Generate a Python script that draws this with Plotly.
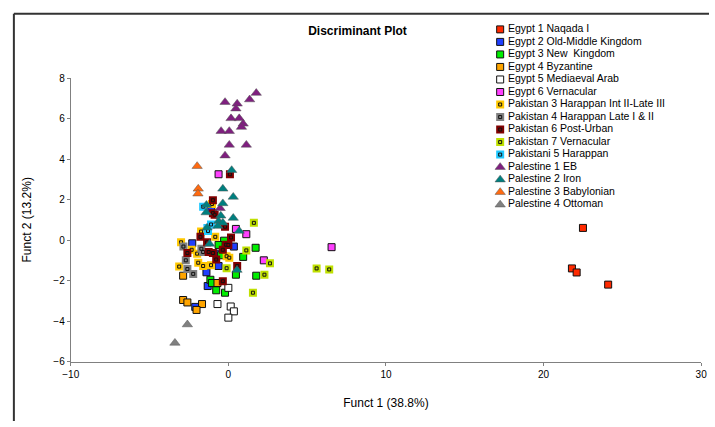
import plotly.graph_objects as go

W, H = 715, 427

# ---------------- data ----------------
series_names = [
    "Egypt 1 Naqada I", "Egypt 2 Old-Middle Kingdom", "Egypt 3 New  Kingdom",
    "Egypt 4 Byzantine", "Egypt 5 Mediaeval Arab", "Egypt 6 Vernacular",
    "Pakistan 3 Harappan Int II-Late III", "Pakistan 4 Harappan Late I & II",
    "Pakistan 6 Post-Urban", "Pakistan 7 Vernacular", "Pakistani 5 Harappan",
    "Palestine 1 EB", "Palestine 2 Iron", "Palestine 3 Babylonian", "Palestine 4 Ottoman",
]

egypt1_x = [22.5, 21.8, 22.1, 24.1]
egypt1_y = [0.6, -1.4, -1.6, -2.2]
egypt2_x = [-1.08, -2.29, 0.35, -0.73, -1.39, -0.62, -1.31, -2.10]
egypt2_y = [1.57, -0.16, -0.32, -0.67, -1.59, -1.28, -2.27, -3.30]
egypt3_x = [-0.27, -0.46, 0.94, 1.73, 0.48, 1.77, -1.14, -1.04, -0.77, -0.21, -0.62]
egypt3_y = [-0.03, -0.75, -0.83, -0.38, -1.71, -1.76, -1.96, -2.12, -2.48, -2.60, -0.24]
egypt4_x = [-2.87, -0.69, -2.87, -2.60, -1.67, -2.02]
egypt4_y = [-1.76, -2.12, -2.96, -3.08, -3.16, -3.45]
egypt5_x = [0.00, -0.69, 0.15, 0.35, 0.00]
egypt5_y = [-2.36, -3.16, -3.28, -3.52, -3.83]
egypt6_x = [-0.62, 6.55, 0.48, 1.14, 2.25]
egypt6_y = [3.25, -0.35, 0.55, 0.29, -1.00]
pak3_x = [-1.73, -0.83, -3.00, -2.33, -1.98, -0.11, 0.06, -3.12, -1.60, -1.91, -1.10, -1.04]
pak3_y = [0.42, 0.16, -0.11, -0.48, -0.67, -0.80, -0.87, -1.31, -1.28, -1.12, -1.24, 1.78]
pak4_x = [-2.85, -1.71, -1.60, -2.70, -2.60, -2.23]
pak4_y = [-0.32, -0.43, -0.59, -1.00, -1.43, -1.67]
pak6_x = [-0.98, -0.98, -0.87, -0.21, 0.10, -1.77, -1.35, 0.17, -0.14, -0.35, -2.60, -0.98,
          -1.25, -0.77, 0.56, -0.35, 0.00]
pak6_y = [1.97, 1.33, 1.25, 0.66, 3.25, 0.16, -0.11, 0.13, -0.23, -0.48, -0.64, -0.64,
          -0.59, -0.96, -1.28, -2.03, -0.24]
pak7_x = [5.6, 6.4, 1.14, 2.64, 2.29, -0.11, 1.56, 1.62]
pak7_y = [-1.40, -1.45, -0.51, -1.15, -1.71, -1.39, -2.60, 0.85]
pak5_x = [-1.60, -1.10, -1.33, -1.29]
pak5_y = [1.65, 0.77, 0.60, 0.45]
pal1_x = [1.77, -0.21, 0.56, 0.48, 1.35, 0.17, 0.69, 0.94, 0.83, -0.46, 0.06, 0.06, 1.14, -0.21, -0.52]
pal1_y = [7.26, 6.81, 6.73, 6.49, 6.94, 6.01, 6.01, 5.74, 5.58, 5.38, 5.38, 4.70, 4.70, 4.17, 1.57]
pal2_x = [0.21, -0.35, 0.31, -0.35, -1.39, -1.41, 0.31, -0.48, -0.62, -0.35, -0.67, -1.35, 0.69, -1.19, 0.55]
pal2_y = [3.45, 2.53, 2.13, 1.81, 1.73, 1.36, 1.09, 1.20, 0.93, 0.85, 0.69, 0.61, 0.45, -0.19, -1.48]
pal3_x = [-1.98, -1.91, -1.93]
pal3_y = [3.65, 2.53, 2.29]
pal4_x = [-2.60, -3.39]
pal4_y = [-4.17, -5.08]

x_ticks = [-10, 0, 10, 20, 30]
y_ticks = [-6, -4, -2, 0, 2, 4, 6, 8]

# ---------------- styles ----------------
series = [
    (egypt1_x, egypt1_y, "sq", "#FF2A00"),
    (egypt2_x, egypt2_y, "sq", "#1F3FFF"),
    (egypt3_x, egypt3_y, "sq", "#00EE00"),
    (egypt4_x, egypt4_y, "sq", "#FFA500"),
    (egypt5_x, egypt5_y, "sq", "#FFFFFF"),
    (egypt6_x, egypt6_y, "sq", "#FF3FFF"),
    (pak3_x, pak3_y, "ring", "#FFC800"),
    (pak4_x, pak4_y, "ring", "#808080"),
    (pak6_x, pak6_y, "ring", "#800000"),
    (pak7_x, pak7_y, "ring", "#BFE000"),
    (pak5_x, pak5_y, "ring", "#1FC8FF"),
    (pal1_x, pal1_y, "tri", "#7F1F7F"),
    (pal2_x, pal2_y, "tri", "#007F7F"),
    (pal3_x, pal3_y, "tri", "#FF6A10"),
    (pal4_x, pal4_y, "tri", "#808080"),
]

FONT = "Liberation Sans, Arial, sans-serif"
fig = go.Figure()


def add_marks(x, y, kind, color, xa, ya):
    common = dict(mode="markers", showlegend=False, hoverinfo="skip", xaxis=xa, yaxis=ya)
    if kind == "sq":
        fig.add_trace(go.Scatter(x=x, y=y, marker=dict(symbol="square", size=7, color=color,
                                                       line=dict(color="#111111", width=1)), **common))
    elif kind == "ring":
        fig.add_trace(go.Scatter(x=x, y=y, marker=dict(symbol="square", size=8, color=color,
                                                       line=dict(width=0)), **common))
        fig.add_trace(go.Scatter(x=x, y=y, marker=dict(symbol="square", size=3, color=color,
                                                       line=dict(color="#111111", width=1)), **common))
    else:
        fig.add_trace(go.Scatter(x=x, y=y, marker=dict(symbol="triangle-up", size=9, color=color,
                                                       line=dict(color="#555555", width=0.5)), **common))


for sx, sy, kind, color in series:
    add_marks(sx, sy, kind, color, "x", "y")

# manual legend, drawn on its own axes (one row per series; x in pixel units of the legend box)
LEG_MARK_X, LEG_TEXT_X = 6, 14
for i, (sx, sy, kind, color) in enumerate(series):
    add_marks([LEG_MARK_X], [i], kind, color, "x2", "y2")
fig.add_trace(go.Scatter(
    x=[LEG_TEXT_X] * len(series_names), y=list(range(len(series_names))), mode="text",
    text=series_names, textposition="middle right",
    textfont=dict(family=FONT, size=10.5, color="#000000"),
    showlegend=False, hoverinfo="skip", xaxis="x2", yaxis="y2"))

# ---------------- layout ----------------
px_l, px_r, px_t, px_b = 64, 707, 75, 366
axis_common = dict(showline=True, linecolor="#808080", linewidth=1, ticks="outside", ticklen=3,
                   tickcolor="#808080", showgrid=False, zeroline=False,
                   tickfont=dict(family=FONT, size=10, color="#000000"))

fig.update_layout(
    width=W, height=H, autosize=False,
    margin=dict(l=0, r=0, t=0, b=0, pad=0),
    paper_bgcolor="white", plot_bgcolor="white",
    title=dict(text="<b>Discriminant Plot</b>", x=0.5, xanchor="center",
               y=1 - 31 / H, yanchor="middle", font=dict(family=FONT, size=12, color="#000000")),
    xaxis=dict(domain=[px_l / W, px_r / W], range=[-10, 30], tickvals=x_ticks, anchor="y",
               title=dict(text="Funct 1 (38.8%)", font=dict(family=FONT, size=12, color="#000000"),
                          standoff=20),
               **axis_common),
    yaxis=dict(domain=[1 - px_b / H, 1 - px_t / H], range=[-6, 8], tickvals=y_ticks, anchor="x",
               title=dict(text="Funct 2 (13.2%)", font=dict(family=FONT, size=12, color="#000000"),
                          standoff=19),
               **axis_common),
    xaxis2=dict(domain=[496 / W, 712 / W], range=[0, 216], visible=False, anchor="y2", fixedrange=True),
    yaxis2=dict(domain=[1 - 211.4 / H, 1 - 18.6 / H], range=[14.5, -0.5], visible=False, anchor="x2",
                fixedrange=True),
    shapes=[
        dict(type="line", xref="paper", yref="paper", x0=6 / W, x1=1.0, y0=1 - 9 / H, y1=1 - 9 / H,
             line=dict(color="#333333", width=2), layer="above"),
        dict(type="line", xref="paper", yref="paper", x0=6 / W, x1=6 / W, y0=0.0, y1=1 - 9 / H,
             line=dict(color="#333333", width=2), layer="above"),
    ],
)

fig.write_html(
    "out.html",
    config={"displayModeBar": False},
    post_script="document.body.style.margin='0';document.body.style.overflow='hidden';",
)
